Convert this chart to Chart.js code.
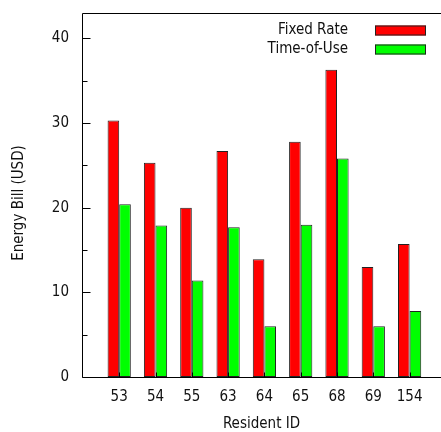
<!DOCTYPE html>
<html>
<head>
<meta charset="utf-8">
<script src="https://cdn.jsdelivr.net/npm/chart.js@4"></script>
<style>
  html, body { margin: 0; padding: 0; background: #fff; }
  #wrap { width: 441px; height: 432px; }
</style>
</head>
<body>
<div id="wrap"><canvas id="c"></canvas></div>
<script>
// Monthly energy bill per resident under two tariffs
const residents = ['53', '54', '55', '63', '64', '65', '68', '69', '154'];
const fixedRate = [30.3, 25.3, 20.0, 26.7, 13.9, 27.8, 36.3, 13.0, 15.7];
const timeOfUse = [20.4, 17.9, 11.4, 17.7, 6.0, 18.0, 25.8, 6.0, 7.8];
const yMajorTicks = [0, 10, 20, 30, 40];
const yMinorTicks = [5, 15, 25, 35];
const yTitle = 'Energy Bill (USD)';

const FONT_FAMILY = "'DejaVu Sans Condensed', 'DejaVu Sans', sans-serif";
const TEXT = '#111';

const toPoints = arr => arr.map((v, i) => ({ x: i, y: v }));

// Frame, inward tick marks, y title and a gnuplot-style key (text left of the swatch)
const framePlugin = {
  id: 'frame',
  afterDatasetsDraw(chart) {
    const { ctx, chartArea: a, scales: { x, y } } = chart;
    ctx.save();
    ctx.strokeStyle = '#000';
    ctx.lineWidth = 1;
    ctx.beginPath();
    const L = a.left + 0.5, T = a.top + 0.5, B = a.bottom + 0.5;
    ctx.moveTo(a.right, T); ctx.lineTo(L, T); ctx.lineTo(L, B); ctx.lineTo(a.right, B);
    yMajorTicks.forEach(v => {
      const p = Math.round(y.getPixelForValue(v)) + 0.5;
      ctx.moveTo(L, p); ctx.lineTo(L + 8, p);
    });
    yMinorTicks.forEach(v => {
      const p = Math.round(y.getPixelForValue(v)) + 0.5;
      ctx.moveTo(L, p); ctx.lineTo(L + 5, p);
    });
    residents.forEach((_, i) => {
      const p = Math.round(x.getPixelForValue(i)) + 0.5;
      ctx.moveTo(p, B); ctx.lineTo(p, B - 5);
    });
    ctx.stroke();

    ctx.font = `15px ${FONT_FAMILY}`;
    ctx.fillStyle = TEXT;

    // y-axis title, centred a little below the middle of the plot
    ctx.save();
    ctx.translate(19, (a.top + a.bottom) / 2 + 8);
    ctx.rotate(-Math.PI / 2);
    ctx.textAlign = 'center';
    ctx.textBaseline = 'middle';
    ctx.fillText(yTitle, 0, 0);
    ctx.restore();

    // key
    ctx.textAlign = 'right';
    ctx.textBaseline = 'middle';
    chart.data.datasets.forEach((ds, k) => {
      const cy = 30.5 + k * 19;
      ctx.fillStyle = TEXT;
      ctx.fillText(ds.label, 348, cy);
      ctx.fillStyle = ds.backgroundColor;
      ctx.fillRect(375, cy - 5, 51, 10);
      ctx.strokeStyle = '#222';
      ctx.strokeRect(375.5, cy - 4.5, 50, 9);
    });
    ctx.restore();
  }
};

new Chart(document.getElementById('c'), {
  type: 'bar',
  data: {
    datasets: [
      {
        label: 'Fixed Rate',
        data: toPoints(fixedRate),
        backgroundColor: '#ff0000',
        borderColor: '#222',
        borderWidth: 1,
        borderSkipped: false
      },
      {
        label: 'Time-of-Use',
        data: toPoints(timeOfUse),
        backgroundColor: '#00ff00',
        borderColor: '#222',
        borderWidth: 1,
        borderSkipped: false
      }
    ]
  },
  options: {
    responsive: true,
    maintainAspectRatio: false,
    animation: false,
    layout: { padding: { left: 0, top: 13, right: 0, bottom: 0 } },
    categoryPercentage: 0.64,
    barPercentage: 1,
    plugins: {
      legend: { display: false },
      tooltip: { enabled: false }
    },
    scales: {
      x: {
        type: 'linear',
        offset: false,
        min: -1.025,
        max: 8.865,
        grid: { display: false, drawTicks: false, tickLength: 0 },
        border: { display: false },
        afterBuildTicks: s => { s.ticks = residents.map((_, i) => ({ value: i })); },
        afterFit: s => { s.height = 55; s.paddingLeft = 0; s.paddingRight = 0; },
        ticks: {
          autoSkip: false,
          maxRotation: 0,
          padding: 11,
          color: TEXT,
          font: { family: FONT_FAMILY, size: 15 },
          callback: v => residents[v]
        },
        title: {
          display: true,
          text: 'Resident ID',
          color: TEXT,
          font: { family: FONT_FAMILY, size: 15 },
          padding: { top: 0, bottom: -1 }
        }
      },
      y: {
        min: 0,
        max: 43,
        grid: { display: false, drawTicks: false, tickLength: 0 },
        border: { display: false },
        afterBuildTicks: s => { s.ticks = yMajorTicks.map(v => ({ value: v })); },
        afterFit: s => { s.width = 82; s.paddingTop = 0; s.paddingBottom = 0; },
        ticks: {
          padding: 13,
          color: TEXT,
          font: { family: FONT_FAMILY, size: 15 }
        },
        title: { display: false }
      }
    }
  },
  plugins: [framePlugin]
});
</script>
</body>
</html>
